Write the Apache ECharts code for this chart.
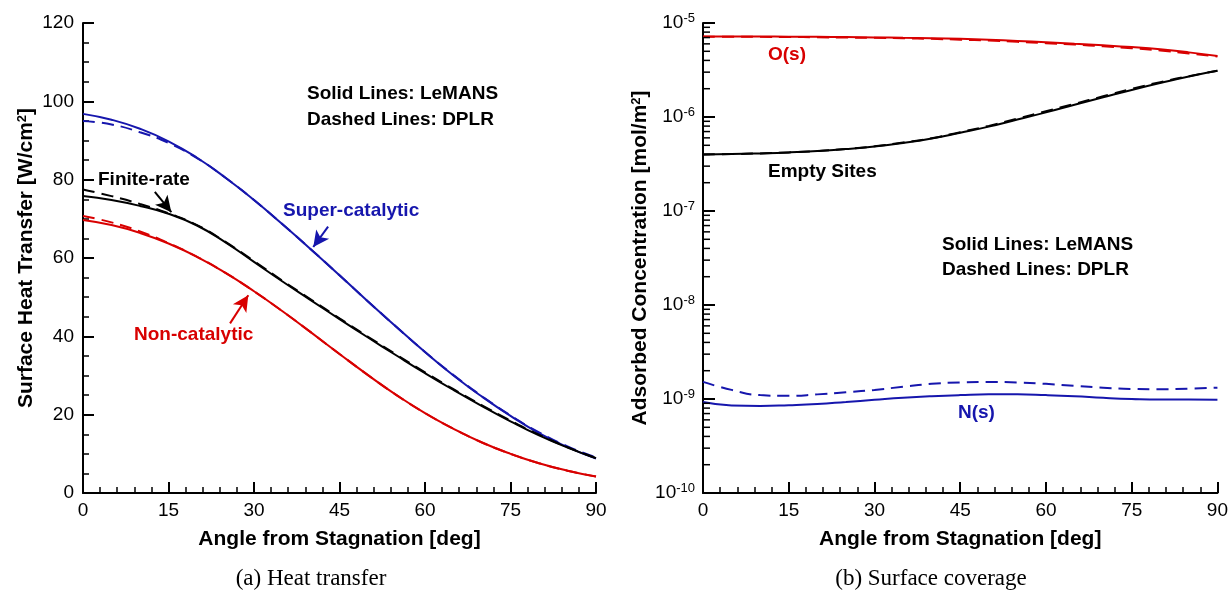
<!DOCTYPE html>
<html>
<head>
<meta charset="utf-8">
<script src="https://cdn.jsdelivr.net/npm/echarts@6/dist/echarts.min.js"></script>
<style>
  html, body { margin: 0; padding: 0; background: #fff; }
  #chart { width: 1231px; height: 593px; }
</style>
</head>
<body>
<div id="chart"></div>
<script>
// Angle from stagnation point [deg]
const angle = [0, 5, 10, 15, 20, 25, 30, 35, 40, 45, 50, 55, 60, 65, 70, 75, 80, 85, 90];

// (a) Surface heat transfer [W/cm^2]
const superLeMANS  = [96.8, 95.3, 93.0, 89.8, 85.6, 80.5, 74.8, 68.6, 62.2, 55.6, 48.9, 42.4, 36.0, 30.0, 24.6, 19.7, 15.3, 11.7, 8.8];
const superDPLR    = [95.0, 94.1, 92.1, 89.4, 85.5, 80.5, 74.8, 68.6, 62.2, 55.6, 48.9, 42.4, 36.0, 30.1, 24.7, 19.8, 15.5, 11.9, 9.1];
const finiteLeMANS = [75.8, 74.8, 73.3, 71.3, 68.3, 64.0, 59.0, 54.0, 49.2, 44.4, 39.7, 35.1, 30.6, 26.3, 22.2, 18.3, 14.7, 11.6, 8.9];
const finiteDPLR   = [77.5, 75.8, 73.8, 71.4, 68.4, 64.1, 59.2, 54.2, 49.4, 44.6, 39.9, 35.3, 30.8, 26.5, 22.4, 18.5, 14.9, 11.7, 8.9];
const nonLeMANS    = [69.7, 68.4, 66.4, 63.7, 60.3, 56.2, 51.5, 46.4, 41.0, 35.5, 30.1, 25.0, 20.4, 16.4, 12.9, 10.0, 7.6, 5.7, 4.2];
const nonDPLR      = [70.7, 69.1, 66.8, 63.8, 60.3, 56.2, 51.5, 46.4, 41.0, 35.5, 30.1, 25.0, 20.4, 16.4, 12.9, 10.0, 7.6, 5.7, 4.2];

// (b) Adsorbed concentration [mol/m^2]
const oLeMANS     = [7.2e-6, 7.2e-6, 7.18e-6, 7.15e-6, 7.12e-6, 7.08e-6, 7.03e-6, 6.97e-6, 6.9e-6, 6.8e-6, 6.65e-6, 6.45e-6, 6.25e-6, 6.02e-6, 5.8e-6, 5.55e-6, 5.25e-6, 4.87e-6, 4.45e-6];
const oDPLR       = [7.15e-6, 7.15e-6, 7.12e-6, 7.1e-6, 7.05e-6, 7.0e-6, 6.95e-6, 6.88e-6, 6.78e-6, 6.65e-6, 6.5e-6, 6.3e-6, 6.1e-6, 5.9e-6, 5.65e-6, 5.4e-6, 5.1e-6, 4.75e-6, 4.4e-6];
const emptyLeMANS = [4.0e-7, 4.03e-7, 4.1e-7, 4.2e-7, 4.35e-7, 4.56e-7, 4.86e-7, 5.3e-7, 5.9e-7, 6.8e-7, 7.9e-7, 9.4e-7, 1.12e-6, 1.35e-6, 1.62e-6, 1.94e-6, 2.3e-6, 2.7e-6, 3.1e-6];
const emptyDPLR   = [4.0e-7, 4.03e-7, 4.1e-7, 4.2e-7, 4.35e-7, 4.56e-7, 4.88e-7, 5.35e-7, 5.95e-7, 6.9e-7, 8.05e-7, 9.6e-7, 1.15e-6, 1.38e-6, 1.66e-6, 1.99e-6, 2.35e-6, 2.72e-6, 3.1e-6];
const nLeMANS     = [9.3e-10, 8.55e-10, 8.45e-10, 8.6e-10, 8.85e-10, 9.3e-10, 9.8e-10, 1.03e-9, 1.07e-9, 1.1e-9, 1.12e-9, 1.12e-9, 1.1e-9, 1.07e-9, 1.03e-9, 1.0e-9, 9.85e-10, 9.85e-10, 9.8e-10];
const nDPLR       = [1.52e-9, 1.25e-9, 1.1e-9, 1.08e-9, 1.12e-9, 1.18e-9, 1.25e-9, 1.35e-9, 1.45e-9, 1.5e-9, 1.52e-9, 1.5e-9, 1.45e-9, 1.38e-9, 1.32e-9, 1.28e-9, 1.27e-9, 1.29e-9, 1.32e-9];

// Axis ticks
const xTicks = { min: 0, max: 90, interval: 15 };
const heatTicks = { min: 0, max: 120, interval: 20 };
const concRange = { min: 1e-10, max: 1e-5 };
// Minor log ticks: 2..9 x 10^k for each decade
const logMinor = [];
for (let k = -10; k <= -6; k++) {
  for (let m = 2; m <= 9; m++) logMinor.push(m * Math.pow(10, k));
}

const BLUE = '#1616ad';
const RED = '#d80000';
const BLACK = '#000000';
const SANS = '"Liberation Sans", Arial, Helvetica, sans-serif';
const SERIF = '"Liberation Serif", "Times New Roman", serif';

const pairs = (xs, ys) => xs.map((x, i) => [x, ys[i]]);

function xAxisOpt(gridIndex) {
  return {
    type: 'value', gridIndex,
    min: xTicks.min, max: xTicks.max, interval: xTicks.interval,
    name: 'Angle from Stagnation [deg]',
    nameLocation: 'middle', nameGap: 36,
    nameTextStyle: { fontFamily: SANS, fontWeight: 'bold', fontSize: 21, color: BLACK },
    axisLine: { show: true, lineStyle: { color: BLACK, width: 2 } },
    axisTick: { show: true, inside: true, length: 11, lineStyle: { color: BLACK, width: 2 } },
    minorTick: { show: true, splitNumber: 5, length: 6, lineStyle: { color: BLACK, width: 1.5 } },
    splitLine: { show: false },
    axisLabel: { fontFamily: SANS, fontSize: 19, color: BLACK, margin: 8 }
  };
}

function lineSeries(name, xi, data, color, dashed, z) {
  return {
    name, type: 'line', xAxisIndex: xi, yAxisIndex: xi,
    data, smooth: true, showSymbol: false, symbol: 'none', z: z || 2,
    lineStyle: { color, width: 2, type: dashed ? [12, 7] : 'solid' },
    emphasis: { disabled: true }
  };
}

function arrow(from, to, color) {
  return {
    silent: true, symbol: ['none', 'arrow'], symbolSize: [12, 16],
    label: { show: false },
    lineStyle: { color, width: 2, type: 'solid' },
    emphasis: { disabled: true },
    data: [[{ coord: from }, { coord: to }]]
  };
}

const chart = echarts.init(document.getElementById('chart'), null, { renderer: 'canvas' });

const withArrow = (s, a) => Object.assign(s, { markLine: a });

chart.setOption({
  animation: false,
  backgroundColor: '#ffffff',
  grid: [
    { left: 83, right: 635, top: 23, bottom: 100, containLabel: false },
    { left: 703, right: 12, top: 23, bottom: 100, containLabel: false }
  ],
  xAxis: [xAxisOpt(0), xAxisOpt(1)],
  yAxis: [
    {
      type: 'value', gridIndex: 0,
      min: heatTicks.min, max: heatTicks.max, interval: heatTicks.interval,
      name: 'Surface Heat Transfer [W/cm{sup|2}]',
      nameLocation: 'middle', nameGap: 46,
      nameTextStyle: {
        fontFamily: SANS, fontWeight: 'bold', fontSize: 21, color: BLACK,
        rich: { sup: { fontFamily: SANS, fontWeight: 'bold', fontSize: 13, color: BLACK, verticalAlign: 'top' } }
      },
      axisLine: { show: true, lineStyle: { color: BLACK, width: 2 } },
      axisTick: { show: true, inside: true, length: 11, lineStyle: { color: BLACK, width: 2 } },
      minorTick: { show: true, splitNumber: 4, length: 6, lineStyle: { color: BLACK, width: 1.5 } },
      splitLine: { show: false },
      axisLabel: { fontFamily: SANS, fontSize: 19, color: BLACK, margin: 9 }
    },
    {
      type: 'log', logBase: 10, gridIndex: 1,
      min: concRange.min, max: concRange.max,
      name: 'Adsorbed Concentration [mol/m{sup|2}]',
      nameLocation: 'middle', nameGap: 50,
      nameTextStyle: {
        fontFamily: SANS, fontWeight: 'bold', fontSize: 21, color: BLACK,
        rich: { sup: { fontFamily: SANS, fontWeight: 'bold', fontSize: 13, color: BLACK, verticalAlign: 'top' } }
      },
      axisLine: { show: true, lineStyle: { color: BLACK, width: 2 } },
      axisTick: { show: true, inside: true, length: 12, lineStyle: { color: BLACK, width: 2 } },
      minorTick: { show: false },
      splitLine: { show: false },
      axisLabel: {
        margin: 8,
        formatter: v => '{b|10}{e|' + Math.round(Math.log10(v)) + '}',
        rich: {
          b: { fontFamily: SANS, fontSize: 19, color: BLACK, lineHeight: 22 },
          e: { fontFamily: SANS, fontSize: 13, color: BLACK, verticalAlign: 'top', lineHeight: 14 }
        }
      }
    }
  ],
  series: [
    // (a) heat transfer
    lineSeries('Super-catalytic DPLR', 0, pairs(angle, superDPLR), BLUE, true),
    withArrow(lineSeries('Super-catalytic LeMANS', 0, pairs(angle, superLeMANS), BLUE, false),
      arrow([43.0, 68.0], [40.4, 62.8], BLUE)),
    lineSeries('Finite-rate DPLR', 0, pairs(angle, finiteDPLR), BLACK, true),
    withArrow(lineSeries('Finite-rate LeMANS', 0, pairs(angle, finiteLeMANS), BLACK, false),
      arrow([12.6, 76.9], [15.5, 71.7], BLACK)),
    lineSeries('Non-catalytic DPLR', 0, pairs(angle, nonDPLR), RED, true),
    withArrow(lineSeries('Non-catalytic LeMANS', 0, pairs(angle, nonLeMANS), RED, false),
      arrow([25.8, 43.3], [29.0, 50.5], RED)),
    // (b) surface coverage
    lineSeries('O(s) DPLR', 1, pairs(angle, oDPLR), RED, true),
    lineSeries('O(s) LeMANS', 1, pairs(angle, oLeMANS), RED, false),
    lineSeries('Empty DPLR', 1, pairs(angle, emptyDPLR), BLACK, true),
    lineSeries('Empty LeMANS', 1, pairs(angle, emptyLeMANS), BLACK, false),
    lineSeries('N(s) DPLR', 1, pairs(angle, nDPLR), BLUE, true),
    lineSeries('N(s) LeMANS', 1, pairs(angle, nLeMANS), BLUE, false),
    // minor ticks of the logarithmic axis (2..9 within each decade)
    {
      type: 'custom', xAxisIndex: 1, yAxisIndex: 1, silent: true, clip: false, z: 5,
      data: logMinor.map(v => [xTicks.min, v]),
      renderItem: (params, api) => {
        const p = api.coord([api.value(0), api.value(1)]);
        return {
          type: 'line',
          shape: { x1: p[0], y1: p[1], x2: p[0] + 7, y2: p[1] },
          style: { stroke: BLACK, lineWidth: 1.5 }
        };
      }
    }
  ],
  graphic: [
    // (a) annotations
    { type: 'text', x: 307, y: 94, style: { text: 'Solid Lines: LeMANS', font: 'bold 19px ' + SANS, fill: BLACK, verticalAlign: 'middle' } },
    { type: 'text', x: 307, y: 120, style: { text: 'Dashed Lines: DPLR', font: 'bold 19px ' + SANS, fill: BLACK, verticalAlign: 'middle' } },
    { type: 'text', x: 98, y: 180, style: { text: 'Finite-rate', font: 'bold 19px ' + SANS, fill: BLACK, verticalAlign: 'middle' } },
    { type: 'text', x: 283, y: 211, style: { text: 'Super-catalytic', font: 'bold 19px ' + SANS, fill: BLUE, verticalAlign: 'middle' } },
    { type: 'text', x: 134, y: 335, style: { text: 'Non-catalytic', font: 'bold 19px ' + SANS, fill: RED, verticalAlign: 'middle' } },
    // (b) annotations
    { type: 'text', x: 768, y: 55, style: { text: 'O(s)', font: 'bold 19px ' + SANS, fill: RED, verticalAlign: 'middle' } },
    { type: 'text', x: 768, y: 172, style: { text: 'Empty Sites', font: 'bold 19px ' + SANS, fill: BLACK, verticalAlign: 'middle' } },
    { type: 'text', x: 958, y: 413, style: { text: 'N(s)', font: 'bold 19px ' + SANS, fill: BLUE, verticalAlign: 'middle' } },
    { type: 'text', x: 942, y: 245, style: { text: 'Solid Lines: LeMANS', font: 'bold 19px ' + SANS, fill: BLACK, verticalAlign: 'middle' } },
    { type: 'text', x: 942, y: 270, style: { text: 'Dashed Lines: DPLR', font: 'bold 19px ' + SANS, fill: BLACK, verticalAlign: 'middle' } },
    // sub-figure captions
    { type: 'text', x: 311, y: 579, style: { text: '(a) Heat transfer', font: '23px ' + SERIF, fill: BLACK, align: 'center', verticalAlign: 'middle' } },
    { type: 'text', x: 931, y: 579, style: { text: '(b) Surface coverage', font: '23px ' + SERIF, fill: BLACK, align: 'center', verticalAlign: 'middle' } }
  ]
});
</script>
</body>
</html>
